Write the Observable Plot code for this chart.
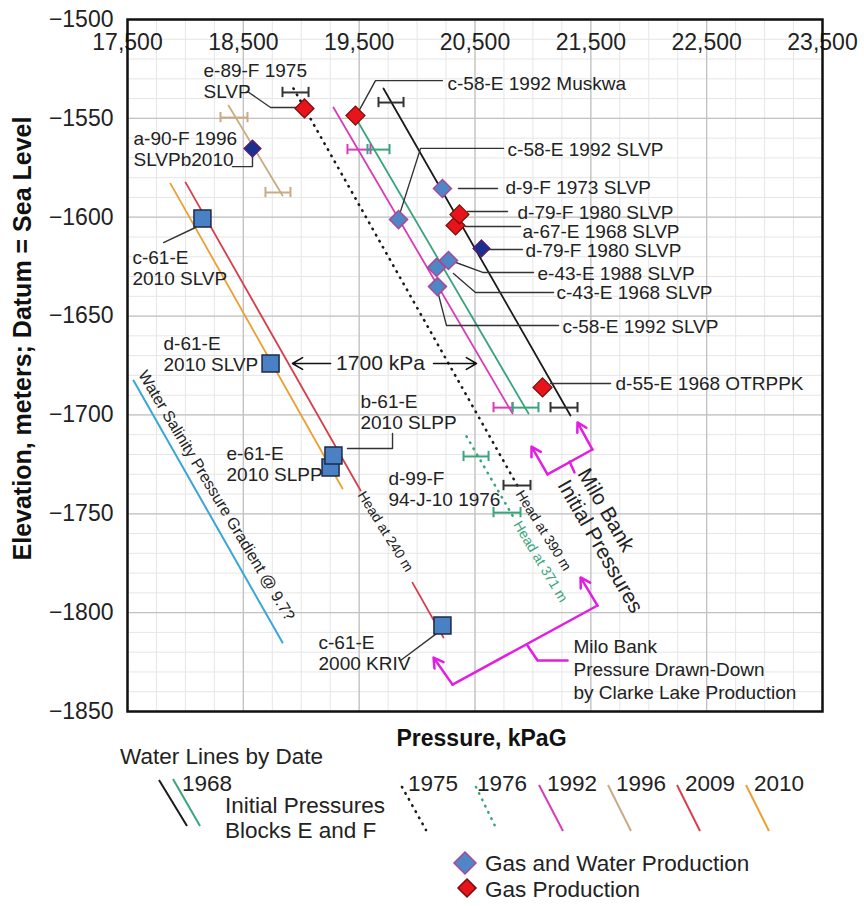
<!DOCTYPE html>
<html><head><meta charset="utf-8">
<script src="https://cdn.jsdelivr.net/npm/d3@7"></script>
<script src="https://cdn.jsdelivr.net/npm/@observablehq/plot@0.6"></script>
<style>
body{margin:0;background:#fff;}
#wrap{position:relative;width:864px;height:906px;font-family:"Liberation Sans",Arial,sans-serif;}
</style></head><body><div id="wrap"></div>
<script>
// ---------- tick labels ----------
const xTicks = [17500,18500,19500,20500,21500,22500,23500];
const yTicks = [-1850,-1800,-1750,-1700,-1650,-1600,-1550,-1500];

// ---------- water lines (pressure kPaG, elevation m) ----------
const line1968Initial = [{p:19710,e:-1534.9},{p:21324,e:-1700.3}];
const line1968 = [{p:19468,e:-1549.6},{p:20962,e:-1699.3}];
const line1975 = [{p:18933,e:-1534.9},{p:20875,e:-1736.7}];
const line1976 = [{p:20427,e:-1710.9},{p:20824,e:-1750.9}];
const line1992 = [{p:19278,e:-1544.5},{p:20824,e:-1699.3}];
const line1996 = [{p:18372,e:-1543.5},{p:18838,e:-1589.0}];
const line2009a = [{p:18001,e:-1582.4},{p:19512,e:-1738.2}];
const line2009b = [{p:19960,e:-1784.8},{p:20228,e:-1812.6}];
const line2010 = [{p:17871,e:-1583.0},{p:19356,e:-1737.2}];
const lineSalinity = [{p:17552,e:-1682.6},{p:18838,e:-1815.1}];

// ---------- error bars ----------
const errBlack = [{p1:18838,p2:19063,e:-1536.9},{p1:19667,p2:19883,e:-1542},{p1:21152,p2:21385,e:-1696.3},{p1:20746,p2:20979,e:-1735.7}];
const errTan = [{p1:18303,p2:18536,e:-1549.6},{p1:18691,p2:18907,e:-1587.5}];
const errMagenta = [{p1:19399,p2:19598,e:-1565.8},{p1:20660,p2:20824,e:-1696.3}];
const errGreen = [{p1:19572,p2:19762,e:-1565.8},{p1:20824,p2:21048,e:-1696.3},{p1:20401,p2:20617,e:-1721},{p1:20660,p2:20893,e:-1749.4}];

// ---------- wells ----------
const gasProduction = [
  {well:"e-89-F 1975 SLVP",p:19028,e:-1545.0},
  {well:"c-58-E 1992 Muskwa",p:19468,e:-1548.6},
  {well:"a-67-E 1968 SLVP",p:20332,e:-1604.2},
  {well:"d-79-F 1980 SLVP",p:20366,e:-1598.6},
  {well:"d-55-E 1968 OTRPPK",p:21083,e:-1686.1}];
const gasWaterProduction = [
  {well:"c-58-E 1992 SLVP",p:19840,e:-1601.2},
  {well:"d-9-F 1973 SLVP",p:20219,e:-1585.5},
  {well:"c-43-E 1968 SLVP",p:20168,e:-1625.4},
  {well:"e-43-E 1988 SLVP",p:20271,e:-1621.9},
  {well:"c-58-E 1992 SLVP",p:20176,e:-1635.1}];
const navyWells = [
  {well:"a-90-F 1996 SLVPb2010",p:18579,e:-1565.3},
  {well:"d-79-F 1980 SLVP",p:20556,e:-1615.8}];
const wells2010 = [
  {well:"c-61-E 2010 SLVP",p:18147,e:-1600.7},
  {well:"d-61-E 2010 SLVP",p:18735,e:-1674.0},
  {well:"e-61-E 2010 SLPP",p:19253,e:-1726.6},
  {well:"b-61-E 2010 SLPP",p:19278,e:-1720.5},
  {well:"c-61-E 2000 KRIV",p:20219,e:-1806.5}];

// ---------- labels ----------
const wellLabels = [
  {text:"e-89-F 1975\nSLVP",p:18156,e:-1530.9},
  {text:"a-90-F 1996\nSLVPb2010",p:17552,e:-1565.5},
  {text:"c-58-E 1992 Muskwa",p:20263,e:-1532.4},
  {text:"c-58-E 1992 SLVP",p:20781,e:-1565.8},
  {text:"d-9-F 1973 SLVP",p:20763,e:-1585.0},
  {text:"d-79-F 1980 SLVP",p:20867,e:-1597.6},
  {text:"a-67-E 1968 SLVP",p:20910,e:-1607.2},
  {text:"d-79-F 1980 SLVP",p:20936,e:-1616.8},
  {text:"e-43-E 1988 SLVP",p:21040,e:-1628.5},
  {text:"c-43-E 1968 SLVP",p:21204,e:-1638.1},
  {text:"c-58-E 1992 SLVP",p:21255,e:-1655.3},
  {text:"d-55-E 1968 OTRPPK",p:21713,e:-1684.1},
  {text:"c-61-E\n2010 SLVP",p:17543,e:-1625.4},
  {text:"d-61-E\n2010 SLVP",p:17811,e:-1669.2},
  {text:"b-61-E\n2010 SLPP",p:19511,e:-1698.3},
  {text:"e-61-E\n2010 SLPP",p:18355,e:-1724.6},
  {text:"d-99-F\n94-J-10 1976",p:19753,e:-1737.5},
  {text:"c-61-E\n2000 KRIV",p:19149,e:-1820.4}];
const drawDownLabel = [{text:"Milo Bank\nPressure Drawn-Down\nby Clarke Lake Production",p:21350,e:-1828.3}];
const initialLabel = [{text:"Milo Bank\nInitial Pressures",p:21350,e:-1730.7}];
const deltaLabel = [{text:"1700 kPa",p:19684,e:-1674.0}];
const salinityLabel = [{text:"Water Salinity Pressure Gradient @ 9.7?",p:18268,e:-1740.8}];
const headLabels = [{text:"Head at 240 m",p:19727,e:-1759.0},{text:"Head at 390 m",p:21091,e:-1758.5}];
const headLabelGreen = [{text:"Head at 371 m",p:21065,e:-1774.2}];
const xTitle = ["Pressure, kPaG"];
const yTitle = ["Elevation, meters; Datum = Sea Level"];

// leader lines [p, e]
const leaders = [
  [[18536,-1536.4],[18735,-1544.5],[18959,-1544.5]],
  [[20219,-1530.9],[19641,-1530.9],[19486,-1547.5]],
  [[18406,-1574.4],[18579,-1574.4],[18579,-1568.8]],
  [[20746,-1565.2],[20030,-1565.2],[19840,-1600.2]],
  [[20357,-1585.5],[20694,-1585.5]],
  [[20435,-1597.1],[20781,-1597.1]],
  [[20418,-1604.7],[20893,-1604.7]],
  [[20608,-1616.3],[20910,-1616.3]],
  [[20288,-1621.9],[20573,-1628.0],[21005,-1628.0]],
  [[20314,-1628.5],[20504,-1638.1],[21178,-1638.1]],
  [[20176,-1637.1],[20254,-1654.8],[21221,-1654.8]],
  [[21152,-1684.1],[21670,-1684.1]],
  [[17811,-1612.8],[18087,-1605.2]],
  [[19399,-1717.0],[19788,-1717.0],[19788,-1709.4]],
  [[19857,-1824.2],[20202,-1809.1]]];
// magenta brackets
const brackets = [
  [[21126,-1730.1],[21514,-1717.5]],
  [[21316,-1723.6],[21359,-1729.1]],
  [[20306,-1836.4],[21558,-1796.4]],
  [[20953,-1816.6],[21040,-1824.2],[21299,-1824.2]]];
const bracketArrows = [
  {p1:21126,e1:-1730.1,p2:20988,e2:-1716.0},
  {p1:21514,e1:-1717.5,p2:21385,e2:-1703.8},
  {p1:20306,e1:-1836.4,p2:20142,e2:-1822.7},
  {p1:21558,e1:-1796.4,p2:21411,e2:-1782.2}];
const deltaArrows = [
  {p1:19253,e1:-1674,p2:18924,e2:-1674},
  {p1:20142,e1:-1674,p2:20513,e2:-1674}];

// legend content
const legendTitle = "Water Lines by Date";
const legendYears = ["1975","1976","1992","1996","2009","2010"];
const legendMarkers = ["Gas and Water Production","Gas Production"];

// ---------- helpers ----------
const flat = arr => arr.flatMap((l,i)=>l.map(([p,e])=>({i,p,e})));
const diamond = {draw(ctx,size){const r=Math.sqrt(size/Math.PI);ctx.moveTo(0,-r);ctx.lineTo(r,0);ctx.lineTo(0,r);ctx.lineTo(-r,0);ctx.closePath();}};
const square = {draw(ctx,size){const r=Math.sqrt(size/Math.PI);ctx.rect(-r,-r,2*r,2*r);}};
const errMarks = (data,color) => [
  Plot.ruleY(data,{x1:"p1",x2:"p2",y:"e",stroke:color,strokeWidth:2}),
  Plot.ruleX(data,{x:"p1",y1:d=>d.e-2.6,y2:d=>d.e+2.6,stroke:color,strokeWidth:2}),
  Plot.ruleX(data,{x:"p2",y1:d=>d.e-2.6,y2:d=>d.e+2.6,stroke:color,strokeWidth:2})];

const C = {black:"#1a1a1a", green:"#3aa57c", magenta:"#d83cb8", tan:"#c9ab85", red:"#d6404c", orange:"#eba033", blue:"#3ba6d6", bracket:"#e21ee2"};
const FONT = '"Liberation Sans", Arial, sans-serif';
const minorX = d3.range(17500, 23501, 250);
const minorY = d3.range(-1850, -1499, 10);
const dots = {strokeDasharray:"0.5,6.5", strokeLinecap:"round", strokeWidth:2.6};

const chart = Plot.plot({
  width: 864, height: 746,
  marginLeft: 127, marginRight: 42, marginTop: 19, marginBottom: 35,
  style: {fontFamily: FONT, fontSize: "23px", color: "#222", background: "white", overflow: "visible"},
  x: {domain: [17500, 23500], axis: null},
  y: {domain: [-1850, -1500], ticks: yTicks, tickSize: 0, tickPadding: 14, tickFormat: d => "\u2212" + Math.abs(d), label: null},
  marks: [
    Plot.ruleX(minorX, {stroke:"#e6e6e6", strokeWidth:1}),
    Plot.ruleY(minorY, {stroke:"#e6e6e6", strokeWidth:1}),
    Plot.ruleX(xTicks, {stroke:"#c2c2c2", strokeWidth:1.3}),
    Plot.ruleY(yTicks, {stroke:"#c2c2c2", strokeWidth:1.3}),
    // water lines
    Plot.line(lineSalinity, {x:"p", y:"e", stroke:C.blue, strokeWidth:2}),
    Plot.line(line2010, {x:"p", y:"e", stroke:C.orange, strokeWidth:1.8}),
    Plot.line(line2009a, {x:"p", y:"e", stroke:C.red, strokeWidth:1.8}),
    Plot.line(line2009b, {x:"p", y:"e", stroke:C.red, strokeWidth:1.8}),
    Plot.line(line1996, {x:"p", y:"e", stroke:C.tan, strokeWidth:1.8}),
    Plot.line(line1992, {x:"p", y:"e", stroke:C.magenta, strokeWidth:1.8}),
    Plot.line(line1968, {x:"p", y:"e", stroke:C.green, strokeWidth:1.8}),
    Plot.line(line1968Initial, {x:"p", y:"e", stroke:C.black, strokeWidth:1.8}),
    Plot.line(line1975, {x:"p", y:"e", stroke:C.black, ...dots}),
    Plot.line(line1976, {x:"p", y:"e", stroke:C.green, ...dots}),
    // error bars
    ...errMarks(errTan, C.tan),
    ...errMarks(errMagenta, C.magenta),
    ...errMarks(errGreen, C.green),
    ...errMarks(errBlack, "#333"),
    // leaders and brackets
    Plot.line(flat(leaders), {x:"p", y:"e", z:"i", stroke:"#333", strokeWidth:1.4}),
    Plot.line(flat(brackets), {x:"p", y:"e", z:"i", stroke:C.bracket, strokeWidth:2.5}),
    Plot.arrow(bracketArrows, {x1:"p1", y1:"e1", x2:"p2", y2:"e2", stroke:C.bracket, strokeWidth:2.5, headLength:10}),
    Plot.arrow(deltaArrows, {x1:"p1", y1:"e1", x2:"p2", y2:"e2", stroke:"#111", strokeWidth:1.6, headLength:11}),
    // wells
    Plot.dot(wells2010, {x:"p", y:"e", symbol:square, r:8.5, fill:"#4a80c4", stroke:"#1c2a48", strokeWidth:1.5}),
    Plot.dot(gasWaterProduction, {x:"p", y:"e", symbol:diamond, r:9, fill:"#4f86c6", stroke:"#a8489a", strokeWidth:1.5}),
    Plot.dot(navyWells, {x:"p", y:"e", symbol:diamond, r:8.5, fill:"#1b2f8f", stroke:"#5a1a6a", strokeWidth:1.2}),
    Plot.dot(gasProduction, {x:"p", y:"e", symbol:diamond, r:9.5, fill:"#e8141b", stroke:"#7a0a0a", strokeWidth:1.2}),
    // texts
    Plot.text(wellLabels, {x:"p", y:"e", text:"text", textAnchor:"start", fontSize:19, lineHeight:1.1, fill:"#222"}),
    Plot.text(drawDownLabel, {x:"p", y:"e", text:"text", textAnchor:"start", fontSize:19, lineHeight:1.21, fill:"#222"}),
    Plot.text(initialLabel, {x:"p", y:"e", text:"text", textAnchor:"start", fontSize:21, lineHeight:1.1, rotate:60, fill:"#222"}),
    Plot.text(deltaLabel, {x:"p", y:"e", text:"text", fontSize:21, fill:"#222"}),
    Plot.text(salinityLabel, {x:"p", y:"e", text:"text", fontSize:16, rotate:59, fill:"#222"}),
    Plot.text(headLabels, {x:"p", y:"e", text:"text", fontSize:14, rotate:58, fill:"#222"}),
    Plot.text(headLabelGreen, {x:"p", y:"e", text:"text", fontSize:14, rotate:59, fill:C.green}),
    // axes
    Plot.text(xTicks, {x:d=>d, frameAnchor:"top", lineAnchor:"middle", textAnchor:"middle", dy:23, text:d=>d3.format(",")(d), fontSize:23, fill:"#222"}),
    Plot.text(xTitle, {frameAnchor:"bottom", lineAnchor:"middle", textAnchor:"middle", text:d=>d, dx:6.5, dy:27, fontSize:23, fontWeight:"bold", fill:"#111"}),
    Plot.text(yTitle, {frameAnchor:"left", lineAnchor:"middle", textAnchor:"middle", text:d=>d, rotate:-90, dx:-105, dy:-27, fontSize:25, fontWeight:"bold", fill:"#111"}),
    Plot.frame({stroke:"#111", strokeWidth:2.5})
  ]
});
const wrap = document.getElementById("wrap");
wrap.appendChild(chart);

// ---------- legend (below the plot) ----------
const top0 = 740;
const lg = d3.select(wrap).append("svg")
  .attr("width", 864).attr("height", 166)
  .style("position","absolute").style("left","0px").style("top", top0 + "px")
  .style("font-family", FONT).style("font-size","22.5px");
const ln = (x1,y1,x2,y2,color,dt) => {
  const s = lg.append("line").attr("x1",x1).attr("y1",y1-top0).attr("x2",x2).attr("y2",y2-top0)
    .attr("stroke",color).attr("stroke-width",2);
  if (dt) s.attr("stroke-dasharray","0.5,6.5").attr("stroke-linecap","round").attr("stroke-width",2.6);
};
const tx = (x,y,t) => lg.append("text").attr("x",x).attr("y",y-top0).attr("dominant-baseline","central")
  .attr("fill","#222").text(t);
tx(120,756,legendTitle);
ln(159,780,187,826,C.black);
ln(173,779,200,826,C.green);
tx(182,783,"1968");
tx(225,805,"Initial Pressures");
tx(225,830,"Blocks E and F");
const yearX = [408,477,547,616,685,754];
const yearLine = [[402,787,426,830,C.black,true],[476,787,497,830,C.green,true],[539,785,563,831,C.magenta],[608,785,631,831,C.tan],[677,785,700,831,C.red],[746,785,769,831,C.orange]];
legendYears.forEach((y,i)=>{
  const [a,b,c,d,col,dt] = yearLine[i];
  ln(a,b,c,d,col,dt);
  tx(yearX[i],783,y);
});
const dia = (cx,cy,r,fill,stroke) => lg.append("path")
  .attr("d",`M${cx},${cy-top0-r}L${cx+r},${cy-top0}L${cx},${cy-top0+r}L${cx-r},${cy-top0}Z`)
  .attr("fill",fill).attr("stroke",stroke).attr("stroke-width",1.5);
dia(465,863,11,"#4f86c6","#a8489a");
dia(467,888,9,"#e8141b","#7a0a0a");
tx(485,863,legendMarkers[0]);
tx(485,889,legendMarkers[1]);
</script></body></html>
